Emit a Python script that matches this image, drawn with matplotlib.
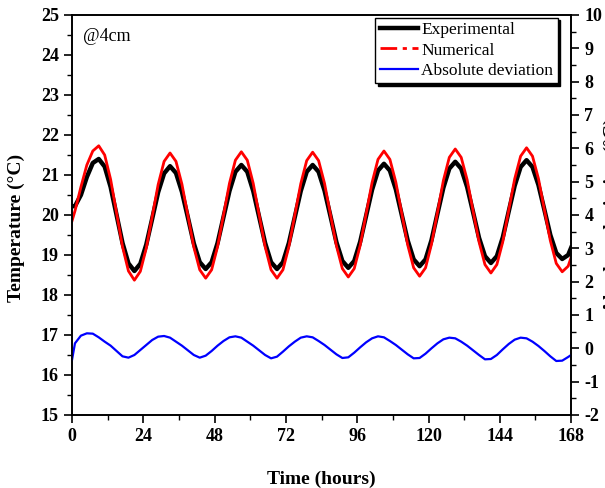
import numpy as np
import matplotlib.pyplot as plt
from matplotlib.ticker import MultipleLocator

plt.rcParams['font.family'] = ['Liberation Serif', 'DejaVu Serif']
plt.rcParams['axes.unicode_minus'] = False

# sample times (hours): 0, 1, 3, 5, ..., 167, 168
hours = [0] + list(range(1, 168, 2)) + [168]

experimental = [
    20.22, 20.22, 20.50, 20.95, 21.30, 21.40, 21.21, 20.70, 20.00, 19.30, 18.79, 18.60,
    18.78, 19.26, 19.91, 20.57, 21.04, 21.22, 21.05, 20.58, 19.94, 19.29, 18.82, 18.65,
    18.82, 19.30, 19.95, 20.60, 21.08, 21.25, 21.08, 20.60, 19.95, 19.30, 18.82, 18.65,
    18.82, 19.30, 19.95, 20.60, 21.08, 21.25, 21.08, 20.61, 19.97, 19.32, 18.85, 18.68,
    18.85, 19.33, 19.98, 20.63, 21.11, 21.28, 21.11, 20.64, 20.00, 19.36, 18.89, 18.72,
    18.89, 19.37, 20.03, 20.68, 21.16, 21.33, 21.16, 20.70, 20.07, 19.43, 18.97, 18.80,
    18.97, 19.44, 20.09, 20.73, 21.20, 21.37, 21.20, 20.75, 20.13, 19.50, 19.05, 18.90,
    19.00, 19.18,
]

numerical = [
    19.85, 20.10, 20.70, 21.25, 21.60, 21.73, 21.50, 20.89, 20.05, 19.21, 18.60, 18.37,
    18.59, 19.17, 19.96, 20.76, 21.34, 21.55, 21.34, 20.77, 19.99, 19.20, 18.63, 18.42,
    18.63, 19.21, 20.00, 20.79, 21.37, 21.58, 21.37, 20.79, 20.00, 19.21, 18.63, 18.42,
    18.63, 19.21, 20.00, 20.78, 21.36, 21.57, 21.36, 20.79, 20.01, 19.23, 18.66, 18.45,
    18.66, 19.24, 20.03, 20.81, 21.39, 21.60, 21.39, 20.82, 20.04, 19.25, 18.68, 18.47,
    18.68, 19.27, 20.06, 20.86, 21.44, 21.65, 21.44, 20.88, 20.10, 19.33, 18.76, 18.55,
    18.76, 19.33, 20.12, 20.90, 21.47, 21.68, 21.47, 20.91, 20.13, 19.36, 18.79, 18.58,
    18.72, 18.94,
]

deviation = [
    -0.35, 0.15, 0.38, 0.45, 0.44, 0.33, 0.20, 0.08, -0.08, -0.24, -0.28, -0.20,
    -0.05, 0.10, 0.25, 0.35, 0.37, 0.32, 0.20, 0.08, -0.06, -0.20, -0.28, -0.22,
    -0.08, 0.08, 0.22, 0.33, 0.36, 0.32, 0.20, 0.08, -0.06, -0.20, -0.30, -0.25,
    -0.10, 0.06, 0.20, 0.32, 0.36, 0.33, 0.22, 0.10, -0.04, -0.18, -0.29, -0.27,
    -0.13, 0.03, 0.18, 0.30, 0.36, 0.33, 0.22, 0.10, -0.04, -0.18, -0.30, -0.29,
    -0.16, 0.00, 0.15, 0.27, 0.32, 0.30, 0.20, 0.08, -0.06, -0.20, -0.33, -0.32,
    -0.20, -0.03, 0.13, 0.26, 0.32, 0.30, 0.20, 0.07, -0.08, -0.24, -0.38, -0.37,
    -0.26, -0.20,
]

fig = plt.figure(figsize=(6.05, 4.88), dpi=100)
ax = fig.add_axes([0.119, 0.1496, 0.825, 0.8197])
ax2 = ax.twinx()

l1, = ax.plot(hours, experimental, color='black', lw=3.2, label='Experimental')
l2, = ax.plot(hours, numerical, color='red', lw=2.0, label='Numerical')
l3, = ax2.plot(hours, deviation, color='blue', lw=1.6, label='Absolute deviation')

ax.set_xlim(0, 168)
ax.set_ylim(15, 25)
ax2.set_ylim(-2, 10)

ax.xaxis.set_major_locator(MultipleLocator(24))
ax.xaxis.set_minor_locator(MultipleLocator(12))
ax.yaxis.set_major_locator(MultipleLocator(1))
ax.yaxis.set_minor_locator(MultipleLocator(0.5))
ax2.yaxis.set_major_locator(MultipleLocator(1))
ax2.yaxis.set_minor_locator(MultipleLocator(0.5))

for a in (ax, ax2):
    a.tick_params(which='major', direction='out', length=6, width=1.2, labelsize=13)
    a.tick_params(which='minor', direction='out', length=3.5, width=1.0)
    for s in a.spines.values():
        s.set_linewidth(1.2)
    for lab in a.get_xticklabels() + a.get_yticklabels():
        lab.set_fontweight('bold')
ax.tick_params(top=False, right=False)

ax.set_xlabel('Time (hours)', fontsize=14, fontweight='bold')
ax.xaxis.set_label_coords(0.5, -0.14)
ax.set_ylabel('Temperature (°C)', fontsize=14, fontweight='bold')
ax.yaxis.set_label_coords(-0.095, 0.4675)
# right-hand label runs off the figure edge, as in the original
ax2.set_ylabel('Absolute deviation (°C)', fontsize=14, fontweight='bold', labelpad=1)

ax.text(0.022, 0.945, '@4cm', transform=ax.transAxes, fontsize=13, va='center')

leg = ax.legend(handles=[l1, l2, l3], loc='upper right', fontsize=12.5,
                bbox_to_anchor=(0.978, 1.0), borderaxespad=0.15, fancybox=False,
                edgecolor='black', framealpha=1, handlelength=2.2, handletextpad=0.2,
                borderpad=0.25, labelspacing=0.25,
                shadow={'color': 'black', 'alpha': 1})
leg.get_frame().set_linewidth(1.0)
leg.get_lines()[1].set_linestyle((0, (6, 2, 1.5, 2)))

fig.savefig('out.png', dpi=100)
